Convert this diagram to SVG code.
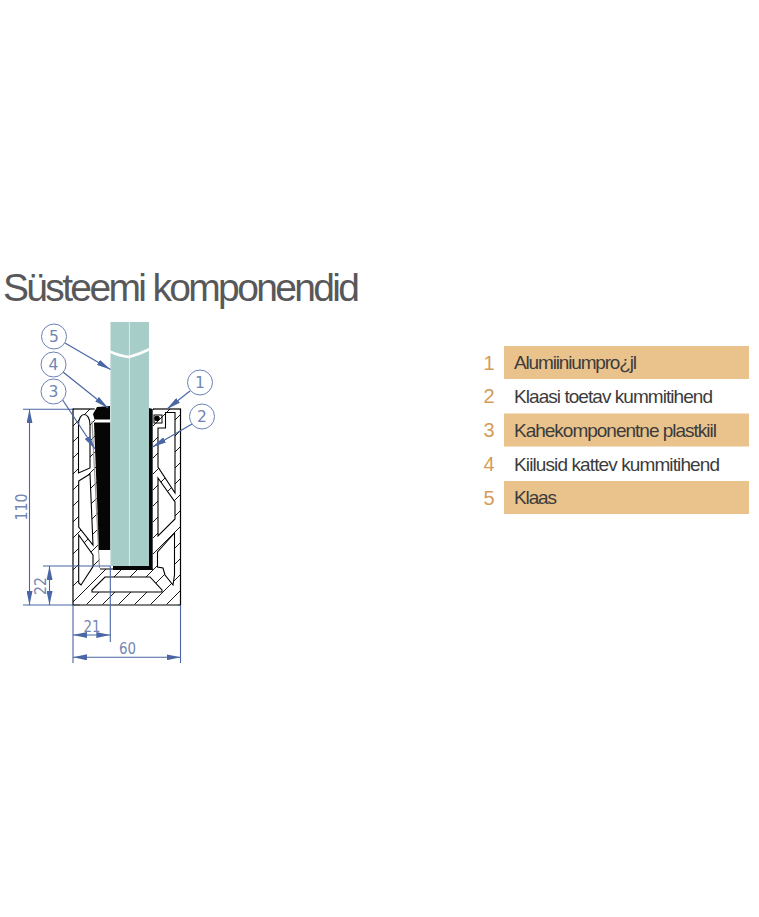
<svg xmlns="http://www.w3.org/2000/svg" width="759" height="917" viewBox="0 0 759 917">
<style>
.dim{stroke:#4a66a4;stroke-width:1.1;fill:none}
.lead{stroke:#4a66a4;stroke-width:1.2;fill:none;marker-end:url(#arr)}
.dimtxt{font-family:"DejaVu Sans",sans-serif;font-size:15.5px;fill:#7586b2;text-anchor:middle}
.circ{fill:#fff;stroke:#6b81b3;stroke-width:1}
.ct{font-family:"DejaVu Sans",sans-serif;font-size:15.5px;fill:#7085b4;text-anchor:middle}
.bar{fill:#e9c28c}
.num{font-family:"Liberation Sans",sans-serif;font-size:20px;fill:#d49c58;text-anchor:middle}
.lab{font-family:"Liberation Sans",sans-serif;font-size:19px;fill:#3c3c3c}
.cham{fill:#fff;stroke:#000;stroke-width:1.1;stroke-linejoin:miter}
</style>
<defs>
<pattern id="h" width="16" height="16" patternUnits="userSpaceOnUse" patternTransform="translate(3 0)">
<path d="M-1,17 L17,-1 M-8,8 L8,-8 M8,24 L24,8" stroke="#000" stroke-width="0.9" fill="none"/>
</pattern>
<marker id="arr" viewBox="0 0 14 6" refX="14" refY="3" markerWidth="14" markerHeight="6" markerUnits="userSpaceOnUse" orient="auto-start-reverse"><path d="M0,0 L14,3 L0,6 Z" fill="#4a66a4"/></marker>
</defs>

<text x="3" y="301" font-family="Liberation Sans, sans-serif" font-size="39" fill="#58585a" textLength="357" lengthAdjust="spacing">Süsteemi komponendid</text>

<g id="profile">
<rect x="73" y="409" width="107.5" height="196" fill="url(#h)" stroke="#000" stroke-width="1.2"/>
<path d="M80,605 H178" stroke="#999" stroke-width="1.2"/>
<path d="M93,404 H153 V569 H100 L94.5,404 Z" fill="#fff"/>
<path class="cham" d="M78.5,425 C78.5,411 90,411 90,425 L90,468 L78.5,473 Z"/>
<path class="cham" d="M78.7,481 L90,474 L93,545 L78.7,527 Z"/>
<path class="cham" d="M78.7,535 L93,555 L93,566.5 L81,585 L78.7,583 Z"/>
<path class="cham" d="M105,577 H150 L162,590 V592 H92 V590 Z"/>
<path class="cham" d="M165.5,412.5 H175 V493 L158,467 V428 H165.5 Z"/>
<path class="cham" d="M158,478 L175,502 V519 L158,536 Z"/>
<path class="cham" d="M174.5,533 L157.5,552 V567 L163,568 L165,575 L173,585 L174.5,575 Z"/>
<path d="M92,421 L99.5,568" stroke="#9a9a9a" stroke-width="1.2" fill="none"/>
<path d="M100,569 H153" stroke="#000" stroke-width="1.1"/>
<rect x="154" y="415" width="8" height="8" fill="none" stroke="#000" stroke-width="1"/>
<circle cx="157" cy="418.5" r="2.8" fill="#000"/>
</g>

<g id="gaskets">
<path d="M93,414 L97,407 L110,406 V419.5 H94.5 Z" fill="#060606"/>
<path d="M94,422.5 H110.5 V550 H99 Z" fill="#060606"/>
<path d="M149,408 L152.7,409 V570 H113 V566 H149 Z" fill="#060606"/>
</g>

<g id="glass">
<rect x="110.5" y="322" width="38.5" height="244" fill="#a6cdc7"/>
<path d="M129.5,322 V566" stroke="#d8ebe7" stroke-width="1.2"/>
<path d="M109.5,351.5 Q120,356 129,357 Q140,354 150,349" stroke="#fff" stroke-width="2.6" fill="none"/>
<path d="M110.8,358 V566" stroke="#c9e0dc" stroke-width="0.7"/>
</g>

<g id="connectors">
<path class="dim" d="M23,409.3 H73 M23,605 H73 M43,566 H110.3 M110.3,566 V642 M73,605 V663 M180.5,605 V663"/>
<path class="dim" style="marker-start:url(#arr);marker-end:url(#arr)" d="M29.5,409.3 V605"/>
<path class="dim" style="marker-start:url(#arr);marker-end:url(#arr)" d="M49.5,566 V605"/>
<path class="dim" style="marker-start:url(#arr);marker-end:url(#arr)" d="M73,635 H110.3"/>
<path class="dim" style="marker-start:url(#arr);marker-end:url(#arr)" d="M73,657.3 H180.5"/>
<path class="lead" d="M65,343 L110.5,369.5"/>
<path class="lead" d="M63,372 L108,408"/>
<path class="lead" d="M62,399 L95,449"/>
<path class="lead" d="M190,391 L167,409"/>
<path class="lead" d="M192,424 L152.5,447"/>
</g>

<g id="dimension-labels">
<text class="dimtxt" transform="translate(26.5 507) rotate(-90)" textLength="27" lengthAdjust="spacingAndGlyphs">110</text>
<text class="dimtxt" transform="translate(45.5 586) rotate(-90)" textLength="18" lengthAdjust="spacingAndGlyphs">22</text>
<text class="dimtxt" x="92" y="631.5" textLength="17" lengthAdjust="spacingAndGlyphs">21</text>
<text class="dimtxt" x="127.5" y="653.5" textLength="17" lengthAdjust="spacingAndGlyphs">60</text>
</g>

<g id="callout-5"><circle class="circ" cx="54" cy="336.5" r="12.5"/><text class="ct" x="54" y="342.3">5</text></g>
<g id="callout-4"><circle class="circ" cx="53.5" cy="364.5" r="12.5"/><text class="ct" x="53.5" y="370.3">4</text></g>
<g id="callout-3"><circle class="circ" cx="53.5" cy="391.5" r="12.5"/><text class="ct" x="53.5" y="397.3">3</text></g>
<g id="callout-1"><circle class="circ" cx="200" cy="382.5" r="12.5"/><text class="ct" x="200" y="388.3">1</text></g>
<g id="callout-2"><circle class="circ" cx="202" cy="416.5" r="12.5"/><text class="ct" x="202" y="422.3">2</text></g>

<g id="legend-1"><rect class="bar" x="504" y="346" width="245" height="33"/><text class="num" x="489" y="370">1</text><text class="lab" x="514" y="369" textLength="123" lengthAdjust="spacing">Alumiiniumpro¿jl</text></g>
<g id="legend-2"><text class="num" x="489" y="403">2</text><text class="lab" x="514" y="403" textLength="199" lengthAdjust="spacing">Klaasi toetav kummitihend</text></g>
<g id="legend-3"><rect class="bar" x="504" y="413.5" width="245" height="33"/><text class="num" x="489" y="437">3</text><text class="lab" x="514" y="437" textLength="203" lengthAdjust="spacing">Kahekomponentne plastkiil</text></g>
<g id="legend-4"><text class="num" x="489" y="471">4</text><text class="lab" x="514" y="471" textLength="206" lengthAdjust="spacing">Kiilusid kattev kummitihend</text></g>
<g id="legend-5"><rect class="bar" x="504" y="481" width="245" height="33"/><text class="num" x="489" y="505">5</text><text class="lab" x="514" y="504" textLength="43" lengthAdjust="spacing">Klaas</text></g>
</svg>
